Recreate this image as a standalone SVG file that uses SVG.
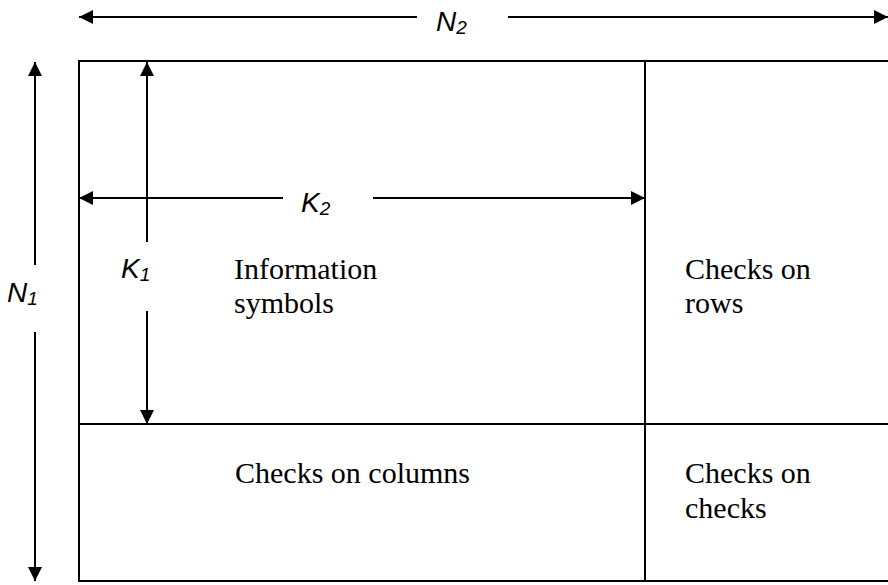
<svg xmlns="http://www.w3.org/2000/svg" width="888" height="585" viewBox="0 0 888 585">
  <style>
    .cell { fill: #ffffff; stroke: #000000; stroke-width: 2; }
    .dim { fill: none; stroke: #000000; stroke-width: 2; marker-end: url(#arrow); }
    .lbl { font-family: "Liberation Serif", "Times New Roman", serif; font-size: 30px; fill: #000000; }
    .sym { font-family: "Liberation Sans", Arial, sans-serif; font-style: italic; font-size: 28px; fill: #000000; }
    .sub { font-size: 19px; }
  </style>
  <defs>
    <marker id="arrow" viewBox="0 0 14 14" markerWidth="14" markerHeight="14" refX="14" refY="7" orient="auto" markerUnits="userSpaceOnUse">
      <path d="M0,0 L14,7 L0,14 z" fill="#000000"/>
    </marker>
  </defs>
  <rect x="0" y="0" width="888" height="585" fill="#ffffff"/>

  <g id="information-symbols">
    <rect class="cell" x="79" y="61" width="566" height="363"/>
    <text class="lbl" x="234" y="279">Information</text>
    <text class="lbl" x="234" y="313">symbols</text>
  </g>
  <g id="checks-on-rows">
    <rect class="cell" x="645" y="61" width="260" height="363"/>
    <text class="lbl" x="685" y="279">Checks on</text>
    <text class="lbl" x="685" y="313">rows</text>
  </g>
  <g id="checks-on-columns">
    <rect class="cell" x="79" y="424" width="566" height="157"/>
    <text class="lbl" x="235" y="483">Checks on columns</text>
  </g>
  <g id="checks-on-checks">
    <rect class="cell" x="645" y="424" width="260" height="157"/>
    <text class="lbl" x="685" y="483">Checks on</text>
    <text class="lbl" x="685" y="518">checks</text>
  </g>

  <g id="connectors">
    <path class="dim" d="M417,17 L79,17"/>
    <path class="dim" d="M508,17 L888,17"/>
    <path class="dim" d="M35,265 L35,62"/>
    <path class="dim" d="M35,332 L35,581"/>
    <path class="dim" d="M147,242 L147,62"/>
    <path class="dim" d="M147,311 L147,424"/>
    <path class="dim" d="M283,198 L79,198"/>
    <path class="dim" d="M373,198 L645,198"/>
  </g>

  <g id="dimension-labels">
    <text class="sym" x="436" y="31">N<tspan class="sub" dy="3">2</tspan></text>
    <text class="sym" x="7" y="302">N<tspan class="sub" dy="3">1</tspan></text>
    <text class="sym" x="121" y="278">K<tspan class="sub" dy="3">1</tspan></text>
    <text class="sym" x="301" y="212">K<tspan class="sub" dy="3">2</tspan></text>
  </g>
</svg>
